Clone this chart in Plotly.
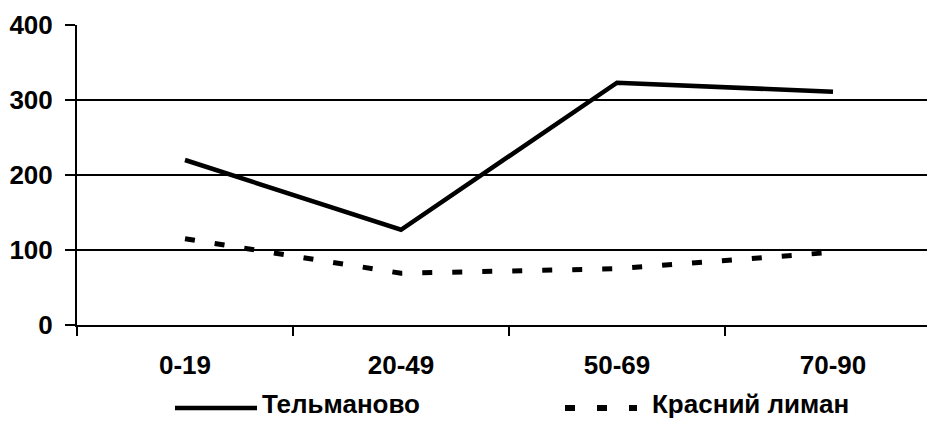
import plotly.graph_objects as go

# Age groups and settlement values
age_groups = ["0-19", "20-49", "50-69", "70-90"]
telmanovo = [220, 127, 323, 311]
krasnyi_liman = [115, 69, 75, 97]
y_ticks = [0, 100, 200, 300, 400]

W, H = 927, 421
L, T, B = 77, 25, 96
plot_w = W - L
plot_h = H - T - B
band = 216  # pixel width of one category band

FONT = "Liberation Sans, Arial, sans-serif"
FS = 26

xpos = list(range(len(age_groups)))

fig = go.Figure()
fig.add_trace(go.Scatter(
    x=xpos, y=telmanovo, mode="lines", name="Тельманово",
    line=dict(color="black", width=4.5), showlegend=False,
))
fig.add_trace(go.Scatter(
    x=xpos, y=krasnyi_liman, mode="lines", name="Красний лиман",
    line=dict(color="black", width=5, dash="10px,20px"), showlegend=False,
))

x_right = -0.5 + plot_w / band

fig.update_layout(
    width=W, height=H,
    margin=dict(l=L, r=0, t=T, b=B, pad=0),
    paper_bgcolor="white", plot_bgcolor="white",
    font=dict(family=FONT, size=FS, color="black"),
    xaxis=dict(
        range=[-0.5, x_right],
        tickmode="array", tickvals=xpos, ticktext=age_groups,
        ticks="", ticklen=0,
        showline=True, linecolor="black", linewidth=2,
        showgrid=False, zeroline=False,
        tickfont=dict(family=FONT, size=FS, color="black", weight="bold"),
        ticklabelstandoff=16,
        minor=dict(tick0=-0.5, dtick=1, ticks="outside", ticklen=9,
                   tickwidth=2, tickcolor="black", showgrid=False),
    ),
    yaxis=dict(
        range=[0, 400], tickmode="array", tickvals=y_ticks,
        ticks="outside", ticklen=10, tickwidth=2, tickcolor="black",
        showline=True, linecolor="black", linewidth=2,
        showgrid=True, gridcolor="black", gridwidth=2,
        zeroline=False,
        tickfont=dict(family=FONT, size=FS, color="black", weight="bold"),
        ticklabelstandoff=7,
    ),
)

# Legend drawn below the axis
def px_x(px):
    return (px - L) / plot_w

def px_y(py):
    return (T + plot_h - py) / plot_h

leg_y = 408
fig.add_shape(type="line", xref="paper", yref="paper",
              x0=px_x(175), x1=px_x(257), y0=px_y(leg_y), y1=px_y(leg_y),
              line=dict(color="black", width=4.5))
fig.add_shape(type="line", xref="paper", yref="paper",
              x0=px_x(565), x1=px_x(637), y0=px_y(leg_y), y1=px_y(leg_y),
              line=dict(color="black", width=6, dash="10px,22px"))
fig.add_annotation(xref="paper", yref="paper", x=px_x(260), y=px_y(H),
                   text="<b>Тельманово</b>", showarrow=False,
                   xanchor="left", yanchor="bottom",
                   font=dict(family=FONT, size=FS, color="black"))
fig.add_annotation(xref="paper", yref="paper", x=px_x(650), y=px_y(H),
                   text="<b>Красний лиман</b>", showarrow=False,
                   xanchor="left", yanchor="bottom",
                   font=dict(family=FONT, size=FS, color="black"))

fig.write_html("out.html")
